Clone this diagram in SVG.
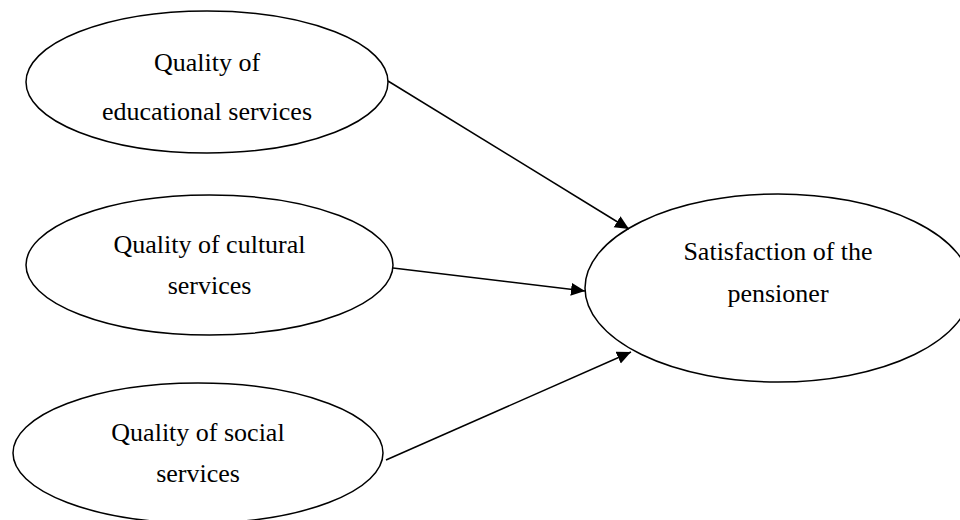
<svg xmlns="http://www.w3.org/2000/svg" width="960" height="520" viewBox="0 0 960 520">
  <style>
    .node ellipse { fill: #ffffff; stroke: #000000; stroke-width: 1.5; }
    .node text { font-family: "Liberation Serif", "Times New Roman", serif; font-size: 26px; fill: #000000; text-anchor: middle; }
    .edge { stroke: #000000; stroke-width: 1.5; fill: none; marker-end: url(#arrow); }
  </style>
  <defs>
    <marker id="arrow" markerUnits="userSpaceOnUse" markerWidth="15" markerHeight="14" refX="14" refY="6.5" orient="auto">
      <path d="M0,0 L14,6.5 L0,13 z" fill="#000000"/>
    </marker>
  </defs>
  <rect width="960" height="520" fill="#ffffff"/>
  <g id="node-educational" class="node">
    <ellipse cx="207" cy="82" rx="181" ry="71"/>
    <text x="207" y="71">Quality of</text>
    <text x="207" y="120">educational services</text>
  </g>
  <g id="node-cultural" class="node">
    <ellipse cx="209.5" cy="265" rx="183.5" ry="70"/>
    <text x="209.5" y="253">Quality of cultural</text>
    <text x="209.5" y="294">services</text>
  </g>
  <g id="node-social" class="node">
    <ellipse cx="198" cy="453" rx="185" ry="70"/>
    <text x="198" y="441">Quality of social</text>
    <text x="198" y="482">services</text>
  </g>
  <g id="node-satisfaction" class="node">
    <ellipse cx="778" cy="288" rx="193" ry="94"/>
    <text x="778" y="260">Satisfaction of the</text>
    <text x="778" y="302">pensioner</text>
  </g>
  <g id="connectors">
    <line class="edge" x1="388" y1="81" x2="629" y2="229"/>
    <line class="edge" x1="393" y1="268" x2="585" y2="291"/>
    <line class="edge" x1="386" y1="460" x2="631" y2="352"/>
  </g>
</svg>
